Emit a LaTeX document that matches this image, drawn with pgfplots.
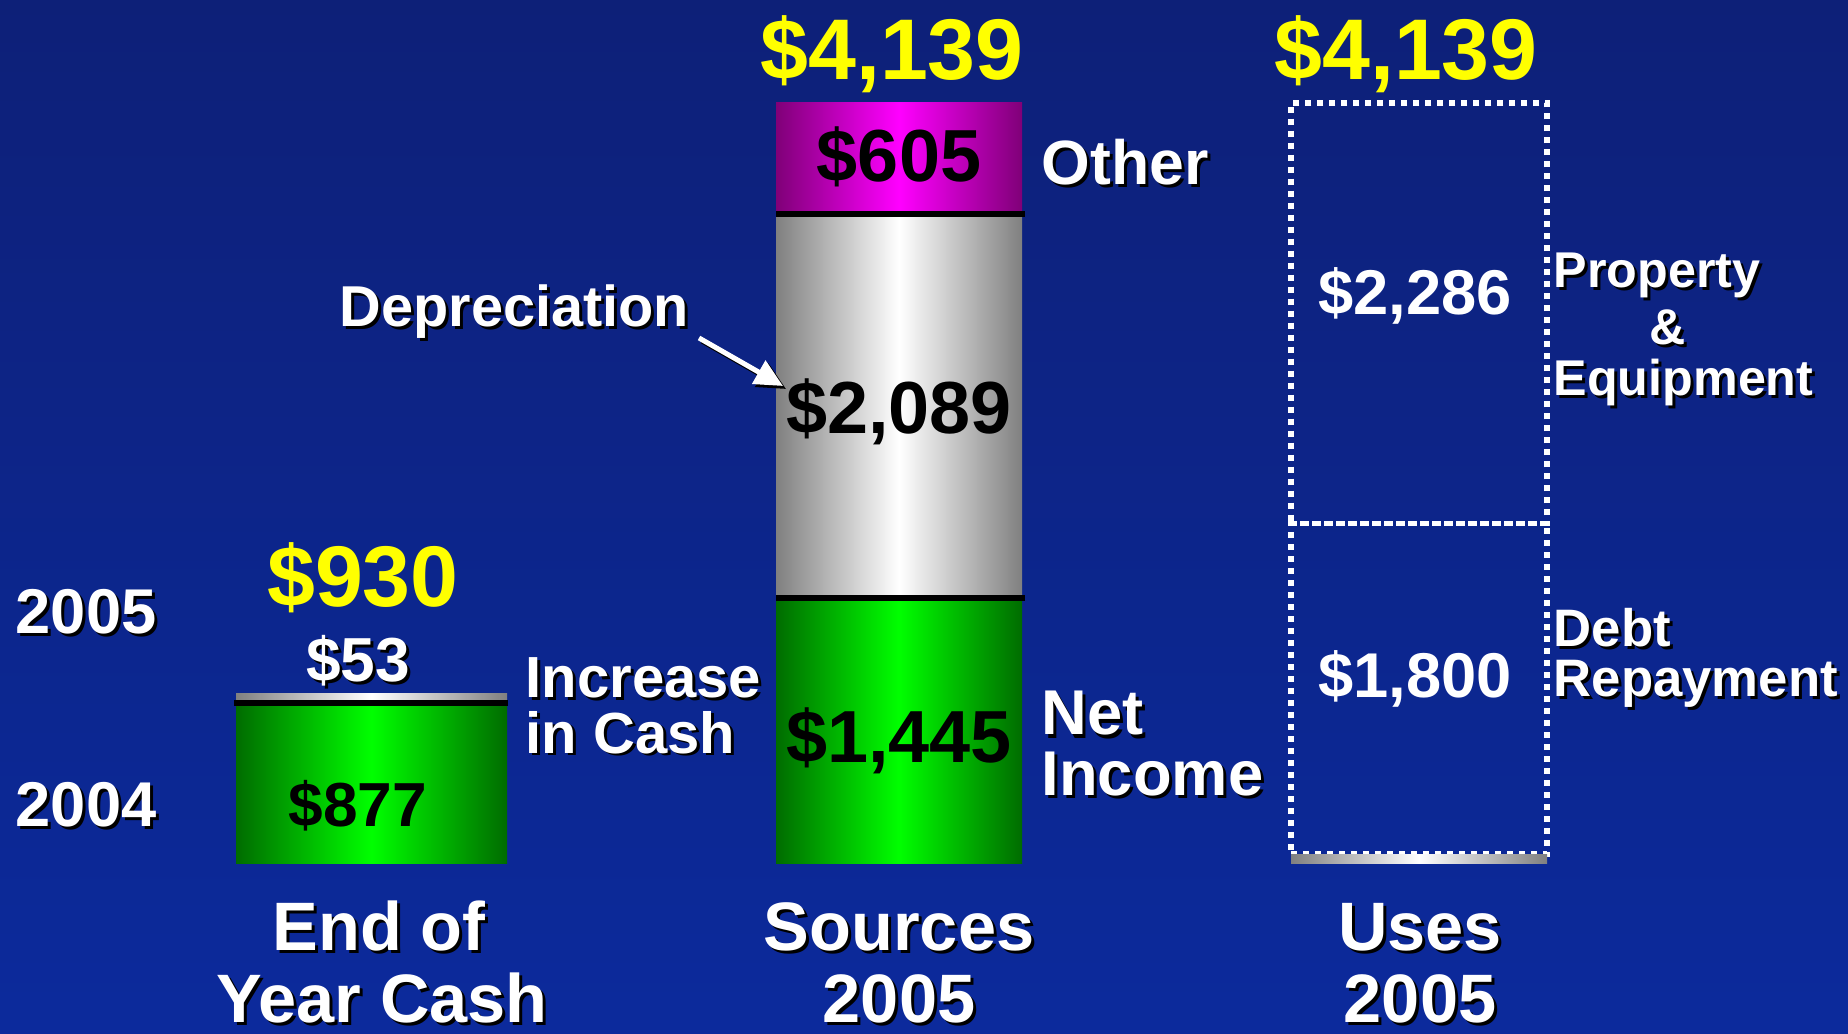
\documentclass[border=0pt]{standalone}
\usepackage{pgfplots}
\pgfplotsset{compat=1.18}
\usepackage{fontspec}
\setmainfont{Liberation Sans}
\usetikzlibrary{arrows.meta}

\definecolor{bgtop}{RGB}{13,32,120}
\definecolor{bgbot}{RGB}{12,42,156}
\definecolor{gedge}{RGB}{0,108,0}
\definecolor{gmid}{RGB}{0,255,0}
\definecolor{sedge}{RGB}{128,128,128}
\definecolor{medge}{RGB}{128,0,120}
\definecolor{mmid}{RGB}{255,0,255}
\definecolor{yel}{RGB}{255,255,0}

\newcommand\fs[1]{\fontsize{#1pt}{#1pt}\selectfont\bfseries}
% shadowed white text: x, y (px from top), anchor, size, text
\newcommand\sh[5]{%
  \node[anchor=#3,inner sep=0pt,text=black] at (#1+3,#2+3) {\fs{#4}#5};
  \node[anchor=#3,inner sep=0pt,text=white] at (#1,#2) {\fs{#4}#5};}
% plain coloured text
\newcommand\pl[6]{%
  \node[anchor=#3,inner sep=0pt,text=#6] at (#1,#2) {\fs{#4}#5};}

\pgfplotsset{base/.style={width=184.8mm,height=103.4mm,scale only axis,
  xmin=0,xmax=1848,ymin=-924.6,ymax=4699.2,hide axis,clip=false}}

\begin{document}
\begin{tikzpicture}
\shade[top color=bgtop,bottom color=bgbot] (0,0) rectangle (184.8mm,103.4mm);

% End of Year Cash
\begin{axis}[base, ybar stacked, bar width=271]
\addplot[draw=none,left color=gedge,right color=gedge,middle color=gmid] coordinates {(371.5,877)};
\addplot[draw=none,left color=sedge,right color=sedge,middle color=white] coordinates {(371.5,53)};
\end{axis}

% Sources 2005
\begin{axis}[base, ybar stacked, bar width=246]
\addplot[draw=none,left color=gedge,right color=gedge,middle color=gmid] coordinates {(899,1445)};
\addplot[draw=none,left color=sedge,right color=sedge,middle color=white] coordinates {(899,2089)};
\addplot[draw=none,left color=medge,right color=medge,middle color=mmid] coordinates {(899,605)};
\end{axis}

% Uses 2005
\begin{axis}[base, ybar stacked, bar width=256]
\addplot[draw=none,left color=sedge,right color=sedge,middle color=white] coordinates {(1419,53)};
\addplot[draw=white,fill=none,line width=0.55mm,dash pattern=on 0.6mm off 0.6mm] coordinates {(1419,1800)};
\addplot[draw=white,fill=none,line width=0.55mm,dash pattern=on 0.6mm off 0.6mm] coordinates {(1419,2286)};
\end{axis}

% separators between stacked segments
\begin{axis}[base]
\addplot[black,line width=0.6mm] coordinates {(234,877) (508,877)};
\addplot[black,line width=0.6mm] coordinates {(776,1445) (1025,1445)};
\addplot[black,line width=0.6mm] coordinates {(776,3534) (1025,3534)};
\end{axis}

\begin{scope}[x=0.1mm,y=-0.1mm,yshift=103.4mm]
% totals
\pl{892}{80}{base}{24.5}{\$4,139}{yel}
\pl{1406}{80}{base}{24.5}{\$4,139}{yel}
\pl{363}{607}{base}{24.5}{\$930}{yel}
% cash bar
\sh{358}{682}{base}{17.7}{\$53}
\pl{358}{826}{base}{17.7}{\$877}{black}
\sh{15}{634}{base west}{18}{2005}
\sh{15}{826}{base west}{18}{2004}
\sh{525}{698}{base west}{16.5}{Increase}
\sh{525}{753}{base west}{16.5}{in Cash}
% sources
\pl{899}{182}{base}{21}{\$605}{black}
\pl{899}{434}{base}{21}{\$2,089}{black}
\pl{899}{762}{base}{21}{\$1,445}{black}
\sh{1041}{185}{base west}{17.8}{Other}
\sh{1041}{735}{base west}{18}{Net}
\sh{1041}{795}{base west}{18}{Income}
\sh{339}{327}{base west}{16.4}{Depreciation}
\draw[black,line width=0.5mm,-{Triangle[length=2.8mm,width=2.6mm]}] (702,341) -- (786,389);
\draw[white,line width=0.5mm,-{Triangle[length=2.8mm,width=2.6mm]}] (699,338) -- (783,386);
% uses
\pl{1415}{315}{base}{18}{\$2,286}{white}
\pl{1415}{698}{base}{18}{\$1,800}{white}
\sh{1553}{288}{base west}{14.3}{Property}
\sh{1668}{345}{base}{14.3}{\&}
\sh{1553}{396}{base west}{14.3}{Equipment}
\sh{1553}{647}{base west}{15}{Debt}
\sh{1553}{697}{base west}{15}{Repayment}
% category labels
\sh{379}{950}{base}{19.5}{End of}
\sh{382}{1022}{base}{19.5}{Year Cash}
\sh{899}{950}{base}{19.5}{Sources}
\sh{899}{1022}{base}{19.5}{2005}
\sh{1420}{950}{base}{19.5}{Uses}
\sh{1420}{1022}{base}{19.5}{2005}
\end{scope}
\end{tikzpicture}
\end{document}
